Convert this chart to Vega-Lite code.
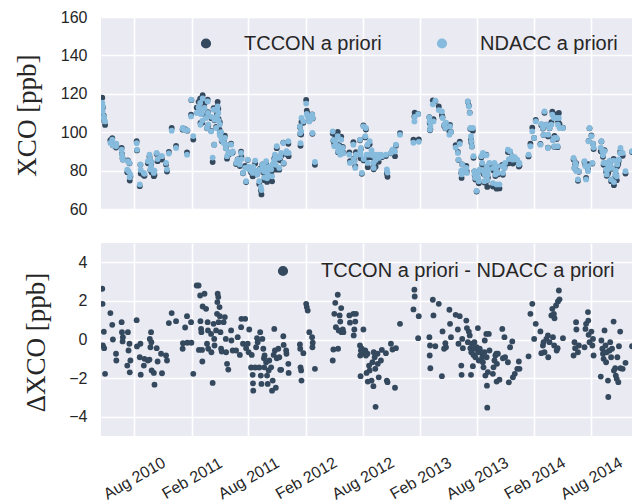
{
  "$schema": "https://vega.github.io/schema/vega-lite/v6.json",
  "padding": {"left": 12, "top": 9, "right": 0, "bottom": 0},
  "background": "white",
  "bounds": "flush",
  "spacing": 34,
  "config": {
    "view": {"fill": "#EAEAF2", "stroke": null},
    "axis": {"domain": false, "ticks": false, "tickSize": 0, "grid": true, "gridColor": "#FFFFFF", "gridWidth": 1.6, "gridOpacity": 1, "labelFont": "Liberation Sans", "labelFontSize": 16, "labelColor": "#262626", "labelOverlap": false, "titleFont": "Liberation Serif", "titleFontSize": 27, "titleFontWeight": "normal", "titleColor": "#262626"},
    "legend": {"orient": "none", "direction": "horizontal", "padding": 0, "symbolType": "circle", "symbolSize": 104, "symbolStrokeWidth": 0, "labelFont": "Liberation Sans", "labelFontSize": 20, "labelColor": "#262626", "labelOffset": 28, "labelLimit": 400, "columnPadding": 50, "title": null}
  },
  "datasets": {
    "obs": [
      {"d":"2010-04-21","n":115.4,"t":118.0,"df":2.63},
      {"d":"2010-04-22","n":110.8,"t":112.6,"df":1.85},
      {"d":"2010-04-26","n":108.2,"t":108.6,"df":0.40},
      {"d":"2010-04-23","n":113.4,"t":113.1,"df":-0.30},
      {"d":"2010-04-27","n":106.5,"t":106.0,"df":-0.45},
      {"d":"2010-04-30","n":105.6,"t":103.8,"df":-1.78},
      {"d":"2010-05-17","n":94.4,"t":95.8,"df":1.37},
      {"d":"2010-05-23","n":96.1,"t":96.9,"df":0.76},
      {"d":"2010-05-25","n":93.2,"t":93.2,"df":0.00},
      {"d":"2010-06-04","n":92.7,"t":92.0,"df":-0.74},
      {"d":"2010-06-05","n":94.0,"t":92.9,"df":-1.09},
      {"d":"2010-06-22","n":90.9,"t":91.8,"df":0.90},
      {"d":"2010-06-23","n":88.3,"t":88.7,"df":0.38},
      {"d":"2010-06-25","n":86.5,"t":86.4,"df":-0.10},
      {"d":"2010-06-26","n":85.7,"t":85.8,"df":0.12},
      {"d":"2010-07-12","n":84.9,"t":85.3,"df":0.38},
      {"d":"2010-07-14","n":79.7,"t":79.1,"df":-0.57},
      {"d":"2010-07-17","n":84.0,"t":83.8,"df":-0.22},
      {"d":"2010-07-20","n":78.0,"t":76.9,"df":-1.09},
      {"d":"2010-07-10","n":80.5,"t":79.2,"df":-1.35},
      {"d":"2010-07-18","n":76.5,"t":74.8,"df":-1.70},
      {"d":"2010-08-09","n":94.3,"t":95.3,"df":1.00},
      {"d":"2010-08-10","n":90.9,"t":90.5,"df":-0.36},
      {"d":"2010-08-21","n":83.2,"t":83.0,"df":-0.22},
      {"d":"2010-08-19","n":72.8,"t":71.9,"df":-0.92},
      {"d":"2010-08-22","n":80.3,"t":78.5,"df":-1.82},
      {"d":"2010-09-03","n":78.3,"t":77.3,"df":-1.00},
      {"d":"2010-09-01","n":78.8,"t":77.4,"df":-1.35},
      {"d":"2010-09-14","n":84.9,"t":83.8,"df":-1.09},
      {"d":"2010-09-19","n":88.3,"t":87.3,"df":-1.04},
      {"d":"2010-09-20","n":86.0,"t":86.0,"df":0.03},
      {"d":"2010-09-24","n":82.3,"t":82.7,"df":0.38},
      {"d":"2010-09-25","n":84.5,"t":84.4,"df":-0.14},
      {"d":"2010-09-22","n":80.6,"t":80.2,"df":-0.40},
      {"d":"2010-09-26","n":80.6,"t":79.0,"df":-1.60},
      {"d":"2010-10-03","n":78.8,"t":77.1,"df":-1.73},
      {"d":"2010-10-05","n":80.0,"t":77.7,"df":-2.34},
      {"d":"2010-10-12","n":89.2,"t":88.7,"df":-0.45},
      {"d":"2010-10-15","n":86.0,"t":84.9,"df":-1.14},
      {"d":"2010-10-26","n":87.5,"t":86.8,"df":-0.74},
      {"d":"2010-10-29","n":87.5,"t":85.8,"df":-1.75},
      {"d":"2010-11-11","n":84.0,"t":83.2,"df":-0.83},
      {"d":"2010-11-14","n":80.6,"t":79.5,"df":-1.09},
      {"d":"2010-11-20","n":88.9,"t":89.7,"df":0.85},
      {"d":"2010-11-29","n":100.8,"t":102.2,"df":1.37},
      {"d":"2010-12-13","n":91.8,"t":92.8,"df":0.95},
      {"d":"2011-01-03","n":101.8,"t":101.3,"df":-0.48},
      {"d":"2011-01-04","n":102.2,"t":102.0,"df":-0.19},
      {"d":"2011-01-11","n":101.0,"t":101.6,"df":0.62},
      {"d":"2011-01-17","n":88.3,"t":89.5,"df":1.21},
      {"d":"2011-01-18","n":101.0,"t":100.8,"df":-0.17},
      {"d":"2011-01-30","n":108.2,"t":109.1,"df":0.90},
      {"d":"2011-01-31","n":116.9,"t":116.7,"df":-0.17},
      {"d":"2011-02-06","n":98.0,"t":96.2,"df":-1.78},
      {"d":"2011-02-17","n":110.0,"t":112.8,"df":2.80},
      {"d":"2011-02-23","n":113.0,"t":115.8,"df":2.80},
      {"d":"2011-02-28","n":115.2,"t":117.5,"df":2.28},
      {"d":"2011-03-14","n":112.6,"t":115.0,"df":2.37},
      {"d":"2011-03-08","n":117.6,"t":119.3,"df":1.71},
      {"d":"2011-03-19","n":107.4,"t":109.0,"df":1.59},
      {"d":"2011-03-01","n":103.9,"t":104.9,"df":0.95},
      {"d":"2011-03-03","n":109.4,"t":110.0,"df":0.55},
      {"d":"2011-03-04","n":112.0,"t":112.4,"df":0.38},
      {"d":"2011-03-06","n":110.0,"t":109.5,"df":-0.54},
      {"d":"2011-02-24","n":111.0,"t":110.5,"df":-0.54},
      {"d":"2011-03-07","n":106.0,"t":104.9,"df":-1.14},
      {"d":"2011-03-24","n":116.0,"t":116.9,"df":0.90},
      {"d":"2011-03-25","n":110.0,"t":110.5,"df":0.47},
      {"d":"2011-03-22","n":102.2,"t":102.0,"df":-0.22},
      {"d":"2011-03-26","n":104.0,"t":103.5,"df":-0.48},
      {"d":"2011-04-04","n":100.4,"t":100.7,"df":0.29},
      {"d":"2011-04-05","n":108.0,"t":107.3,"df":-0.66},
      {"d":"2011-04-09","n":86.8,"t":84.5,"df":-2.25},
      {"d":"2011-04-12","n":111.7,"t":112.5,"df":0.81},
      {"d":"2011-04-14","n":93.5,"t":93.5,"df":0.03},
      {"d":"2011-04-15","n":106.5,"t":106.2,"df":-0.31},
      {"d":"2011-04-20","n":102.2,"t":102.7,"df":0.47},
      {"d":"2011-04-23","n":108.2,"t":109.5,"df":1.33},
      {"d":"2011-04-24","n":111.5,"t":113.4,"df":1.94},
      {"d":"2011-04-25","n":113.4,"t":115.8,"df":2.37},
      {"d":"2011-04-27","n":110.0,"t":112.2,"df":2.20},
      {"d":"2011-05-01","n":99.6,"t":101.3,"df":1.68},
      {"d":"2011-05-02","n":104.0,"t":105.2,"df":1.21},
      {"d":"2011-04-28","n":106.0,"t":106.9,"df":0.90},
      {"d":"2011-05-04","n":97.9,"t":98.3,"df":0.38},
      {"d":"2011-05-06","n":100.0,"t":99.5,"df":-0.48},
      {"d":"2011-05-08","n":96.0,"t":95.4,"df":-0.62},
      {"d":"2011-05-14","n":94.4,"t":95.3,"df":0.90},
      {"d":"2011-05-18","n":97.0,"t":98.2,"df":1.16},
      {"d":"2011-05-21","n":91.8,"t":91.8,"df":0.03},
      {"d":"2011-05-22","n":93.5,"t":92.8,"df":-0.66},
      {"d":"2011-05-25","n":87.5,"t":86.2,"df":-1.26},
      {"d":"2011-05-29","n":89.7,"t":88.1,"df":-1.56},
      {"d":"2011-06-07","n":93.5,"t":94.0,"df":0.47},
      {"d":"2011-06-08","n":89.0,"t":89.0,"df":-0.05},
      {"d":"2011-06-12","n":90.0,"t":89.4,"df":-0.57},
      {"d":"2011-06-23","n":84.0,"t":83.4,"df":-0.57},
      {"d":"2011-06-28","n":85.7,"t":85.8,"df":0.12},
      {"d":"2011-07-05","n":83.2,"t":82.4,"df":-0.80},
      {"d":"2011-07-09","n":89.2,"t":89.8,"df":0.64},
      {"d":"2011-07-10","n":86.0,"t":87.1,"df":1.07},
      {"d":"2011-07-22","n":81.4,"t":82.5,"df":1.07},
      {"d":"2011-07-15","n":78.8,"t":78.6,"df":-0.22},
      {"d":"2011-07-25","n":74.5,"t":74.0,"df":-0.45},
      {"d":"2011-07-30","n":85.7,"t":85.5,"df":-0.22},
      {"d":"2011-08-04","n":80.6,"t":81.1,"df":0.52},
      {"d":"2011-08-02","n":82.0,"t":81.3,"df":-0.66},
      {"d":"2011-08-12","n":79.7,"t":78.9,"df":-0.80},
      {"d":"2011-08-10","n":80.5,"t":79.0,"df":-1.45},
      {"d":"2011-08-15","n":78.8,"t":77.0,"df":-1.83},
      {"d":"2011-08-16","n":79.5,"t":77.2,"df":-2.27},
      {"d":"2011-08-17","n":82.0,"t":79.3,"df":-2.65},
      {"d":"2011-08-23","n":85.2,"t":83.7,"df":-1.45},
      {"d":"2011-08-26","n":80.0,"t":79.6,"df":-0.40},
      {"d":"2011-08-29","n":78.0,"t":78.1,"df":0.07},
      {"d":"2011-08-31","n":79.0,"t":78.9,"df":-0.14},
      {"d":"2011-09-05","n":74.5,"t":73.0,"df":-1.45},
      {"d":"2011-09-08","n":80.6,"t":81.0,"df":0.38},
      {"d":"2011-09-10","n":71.5,"t":69.6,"df":-1.87},
      {"d":"2011-09-12","n":69.9,"t":67.6,"df":-2.30},
      {"d":"2011-09-15","n":83.2,"t":83.2,"df":0.03},
      {"d":"2011-09-18","n":80.6,"t":80.1,"df":-0.48},
      {"d":"2011-09-20","n":79.7,"t":78.7,"df":-0.97},
      {"d":"2011-09-21","n":76.5,"t":75.0,"df":-1.44},
      {"d":"2011-09-22","n":82.0,"t":81.2,"df":-0.83},
      {"d":"2011-09-27","n":84.9,"t":83.7,"df":-1.18},
      {"d":"2011-09-30","n":76.0,"t":74.1,"df":-1.87},
      {"d":"2011-10-02","n":78.0,"t":75.7,"df":-2.30},
      {"d":"2011-10-05","n":80.6,"t":79.0,"df":-1.60},
      {"d":"2011-10-07","n":82.0,"t":80.9,"df":-1.09},
      {"d":"2011-10-13","n":80.6,"t":79.2,"df":-1.44},
      {"d":"2011-10-16","n":77.0,"t":74.4,"df":-2.65},
      {"d":"2011-10-18","n":83.2,"t":81.1,"df":-2.13},
      {"d":"2011-10-21","n":84.0,"t":83.2,"df":-0.80},
      {"d":"2011-10-23","n":85.7,"t":86.3,"df":0.55},
      {"d":"2011-10-25","n":88.3,"t":87.7,"df":-0.57},
      {"d":"2011-10-28","n":83.0,"t":80.5,"df":-2.50},
      {"d":"2011-10-31","n":92.7,"t":91.7,"df":-0.97},
      {"d":"2011-11-05","n":86.6,"t":86.1,"df":-0.48},
      {"d":"2011-11-08","n":81.4,"t":80.5,"df":-0.92},
      {"d":"2011-11-11","n":87.0,"t":85.4,"df":-1.57},
      {"d":"2011-11-21","n":94.4,"t":94.6,"df":0.17},
      {"d":"2011-11-22","n":84.0,"t":83.7,"df":-0.28},
      {"d":"2011-11-30","n":89.2,"t":88.6,"df":-0.57},
      {"d":"2011-12-01","n":90.1,"t":89.4,"df":-0.74},
      {"d":"2011-11-14","n":89.2,"t":87.6,"df":-1.57},
      {"d":"2011-12-07","n":95.3,"t":94.0,"df":-1.26},
      {"d":"2011-12-08","n":89.2,"t":87.5,"df":-1.73},
      {"d":"2012-01-13","n":103.0,"t":102.7,"df":-0.26},
      {"d":"2012-01-14","n":99.6,"t":99.1,"df":-0.48},
      {"d":"2012-01-15","n":94.3,"t":92.9,"df":-1.44},
      {"d":"2012-01-17","n":100.4,"t":98.8,"df":-1.60},
      {"d":"2012-01-18","n":107.4,"t":105.3,"df":-2.13},
      {"d":"2012-01-24","n":105.6,"t":104.9,"df":-0.71},
      {"d":"2012-02-02","n":114.9,"t":116.8,"df":1.85},
      {"d":"2012-02-04","n":109.5,"t":111.2,"df":1.68},
      {"d":"2012-02-07","n":108.2,"t":109.7,"df":1.50},
      {"d":"2012-02-12","n":105.6,"t":106.0,"df":0.38},
      {"d":"2012-02-21","n":109.1,"t":109.2,"df":0.12},
      {"d":"2012-02-23","n":107.4,"t":107.2,"df":-0.17},
      {"d":"2012-02-22","n":99.6,"t":99.2,"df":-0.40},
      {"d":"2012-03-01","n":84.5,"t":83.0,"df":-1.52},
      {"d":"2012-04-27","n":100.4,"t":99.3,"df":-1.09},
      {"d":"2012-04-29","n":96.0,"t":95.5,"df":-0.52},
      {"d":"2012-05-05","n":95.3,"t":97.2,"df":1.90},
      {"d":"2012-05-13","n":97.9,"t":100.2,"df":2.32},
      {"d":"2012-05-02","n":92.7,"t":94.0,"df":1.33},
      {"d":"2012-05-07","n":93.5,"t":94.1,"df":0.64},
      {"d":"2012-05-14","n":90.1,"t":89.6,"df":-0.48},
      {"d":"2012-05-16","n":92.7,"t":93.2,"df":0.47},
      {"d":"2012-05-19","n":91.8,"t":93.0,"df":1.25},
      {"d":"2012-05-21","n":88.3,"t":89.2,"df":0.93},
      {"d":"2012-05-24","n":96.1,"t":97.7,"df":1.63},
      {"d":"2012-05-25","n":90.5,"t":90.9,"df":0.38},
      {"d":"2012-05-29","n":91.8,"t":92.3,"df":0.52},
      {"d":"2012-05-31","n":89.0,"t":89.4,"df":0.38},
      {"d":"2012-06-19","n":88.3,"t":89.5,"df":1.25},
      {"d":"2012-06-21","n":84.0,"t":84.9,"df":0.87},
      {"d":"2012-07-02","n":93.5,"t":94.8,"df":1.33},
      {"d":"2012-07-08","n":81.4,"t":82.3,"df":0.93},
      {"d":"2012-07-10","n":88.3,"t":89.6,"df":1.33},
      {"d":"2012-07-05","n":84.5,"t":85.0,"df":0.52},
      {"d":"2012-07-03","n":86.0,"t":86.2,"df":0.21},
      {"d":"2012-08-03","n":103.0,"t":103.5,"df":0.52},
      {"d":"2012-07-23","n":96.1,"t":95.8,"df":-0.31},
      {"d":"2012-07-26","n":91.8,"t":91.2,"df":-0.57},
      {"d":"2012-07-24","n":90.1,"t":89.3,"df":-0.83},
      {"d":"2012-07-29","n":78.8,"t":78.3,"df":-0.48},
      {"d":"2012-08-04","n":86.0,"t":85.3,"df":-0.66},
      {"d":"2012-08-09","n":97.9,"t":97.3,"df":-0.57},
      {"d":"2012-08-11","n":102.2,"t":101.4,"df":-0.83},
      {"d":"2012-08-16","n":93.5,"t":92.8,"df":-0.74},
      {"d":"2012-07-25","n":88.3,"t":86.4,"df":-1.90},
      {"d":"2012-08-13","n":88.3,"t":86.6,"df":-1.73},
      {"d":"2012-08-17","n":84.0,"t":81.8,"df":-2.18},
      {"d":"2012-08-21","n":88.3,"t":87.0,"df":-1.35},
      {"d":"2012-08-23","n":95.3,"t":93.7,"df":-1.60},
      {"d":"2012-08-29","n":90.6,"t":88.5,"df":-2.13},
      {"d":"2012-09-01","n":88.0,"t":86.8,"df":-1.18},
      {"d":"2012-09-04","n":84.0,"t":81.6,"df":-2.42},
      {"d":"2012-09-05","n":81.4,"t":80.7,"df":-0.66},
      {"d":"2012-09-08","n":88.3,"t":87.4,"df":-0.92},
      {"d":"2012-09-10","n":86.6,"t":85.1,"df":-1.52},
      {"d":"2012-09-11","n":85.5,"t":82.0,"df":-3.49},
      {"d":"2012-09-17","n":88.3,"t":87.6,"df":-0.74},
      {"d":"2012-09-18","n":87.0,"t":85.7,"df":-1.26},
      {"d":"2012-09-21","n":86.6,"t":84.6,"df":-1.96},
      {"d":"2012-09-28","n":88.3,"t":87.2,"df":-1.09},
      {"d":"2012-10-01","n":87.5,"t":87.0,"df":-0.54},
      {"d":"2012-10-14","n":88.3,"t":87.6,"df":-0.71},
      {"d":"2012-10-17","n":80.6,"t":78.5,"df":-2.13},
      {"d":"2012-10-19","n":79.0,"t":76.8,"df":-2.21},
      {"d":"2012-10-30","n":89.2,"t":89.0,"df":-0.22},
      {"d":"2012-11-04","n":90.9,"t":90.4,"df":-0.52},
      {"d":"2012-11-12","n":90.0,"t":87.5,"df":-2.50},
      {"d":"2012-11-15","n":93.5,"t":93.0,"df":-0.45},
      {"d":"2012-11-28","n":98.7,"t":99.5,"df":0.81},
      {"d":"2013-01-13","n":105.6,"t":108.2,"df":2.58},
      {"d":"2013-01-14","n":108.0,"t":110.2,"df":2.23},
      {"d":"2013-01-10","n":94.5,"t":96.1,"df":1.56},
      {"d":"2013-01-27","n":95.0,"t":96.2,"df":1.21},
      {"d":"2013-01-25","n":109.4,"t":109.5,"df":0.07},
      {"d":"2013-03-02","n":107.7,"t":107.8,"df":0.12},
      {"d":"2013-03-04","n":101.3,"t":101.0,"df":-0.31},
      {"d":"2013-03-03","n":105.6,"t":104.8,"df":-0.83},
      {"d":"2013-03-05","n":103.0,"t":101.5,"df":-1.49},
      {"d":"2013-03-13","n":114.5,"t":116.6,"df":2.06},
      {"d":"2013-03-15","n":105.6,"t":106.8,"df":1.25},
      {"d":"2013-03-21","n":116.4,"t":116.1,"df":-0.35},
      {"d":"2013-04-01","n":111.5,"t":113.4,"df":1.85},
      {"d":"2013-04-11","n":110.8,"t":108.9,"df":-1.90},
      {"d":"2013-04-13","n":107.4,"t":107.8,"df":0.42},
      {"d":"2013-04-18","n":103.9,"t":103.4,"df":-0.48},
      {"d":"2013-04-22","n":102.2,"t":102.0,"df":-0.19},
      {"d":"2013-04-24","n":105.0,"t":104.6,"df":-0.40},
      {"d":"2013-05-05","n":98.7,"t":100.2,"df":1.54},
      {"d":"2013-05-07","n":103.0,"t":103.8,"df":0.81},
      {"d":"2013-05-10","n":100.0,"t":100.1,"df":0.12},
      {"d":"2013-05-25","n":92.0,"t":93.3,"df":1.28},
      {"d":"2013-06-07","n":93.9,"t":95.1,"df":1.21},
      {"d":"2013-06-01","n":89.2,"t":89.7,"df":0.52},
      {"d":"2013-06-03","n":85.7,"t":85.5,"df":-0.22},
      {"d":"2013-06-12","n":80.0,"t":78.7,"df":-1.35},
      {"d":"2013-06-13","n":78.0,"t":76.2,"df":-1.83},
      {"d":"2013-06-15","n":83.2,"t":83.2,"df":0.03},
      {"d":"2013-06-17","n":79.7,"t":79.2,"df":-0.45},
      {"d":"2013-06-28","n":81.4,"t":82.4,"df":0.98},
      {"d":"2013-06-30","n":78.8,"t":79.4,"df":0.59},
      {"d":"2013-07-03","n":116.0,"t":115.9,"df":-0.14},
      {"d":"2013-07-06","n":113.4,"t":113.8,"df":0.41},
      {"d":"2013-07-09","n":110.0,"t":110.2,"df":0.21},
      {"d":"2013-07-11","n":102.2,"t":101.7,"df":-0.45},
      {"d":"2013-07-13","n":97.9,"t":96.0,"df":-1.83},
      {"d":"2013-07-14","n":95.3,"t":94.6,"df":-0.66},
      {"d":"2013-07-16","n":92.7,"t":92.5,"df":-0.22},
      {"d":"2013-07-19","n":102.2,"t":100.8,"df":-1.38},
      {"d":"2013-07-21","n":87.5,"t":86.7,"df":-0.80},
      {"d":"2013-07-24","n":79.7,"t":79.6,"df":-0.14},
      {"d":"2013-07-25","n":78.0,"t":77.5,"df":-0.48},
      {"d":"2013-07-27","n":76.2,"t":75.3,"df":-0.92},
      {"d":"2013-07-31","n":69.5,"t":69.1,"df":-0.40},
      {"d":"2013-08-04","n":78.8,"t":79.4,"df":0.59},
      {"d":"2013-08-05","n":76.2,"t":75.5,"df":-0.66},
      {"d":"2013-08-07","n":74.5,"t":73.4,"df":-1.09},
      {"d":"2013-08-10","n":80.6,"t":80.1,"df":-0.48},
      {"d":"2013-08-15","n":87.5,"t":86.8,"df":-0.66},
      {"d":"2013-08-18","n":84.0,"t":83.1,"df":-0.92},
      {"d":"2013-08-20","n":89.2,"t":88.0,"df":-1.18},
      {"d":"2013-08-22","n":79.7,"t":78.3,"df":-1.44},
      {"d":"2013-08-25","n":74.5,"t":73.8,"df":-0.66},
      {"d":"2013-08-26","n":78.0,"t":78.0,"df":-0.05},
      {"d":"2013-08-28","n":79.7,"t":77.8,"df":-1.87},
      {"d":"2013-08-31","n":88.0,"t":88.3,"df":0.29},
      {"d":"2013-09-01","n":82.0,"t":81.1,"df":-0.92},
      {"d":"2013-09-02","n":77.0,"t":74.6,"df":-2.39},
      {"d":"2013-09-05","n":78.0,"t":76.3,"df":-1.69},
      {"d":"2013-09-08","n":80.6,"t":80.9,"df":0.29},
      {"d":"2013-09-10","n":84.0,"t":83.4,"df":-0.57},
      {"d":"2013-09-03","n":75.0,"t":71.5,"df":-3.53},
      {"d":"2013-09-21","n":73.5,"t":71.7,"df":-1.78},
      {"d":"2013-09-23","n":81.4,"t":80.0,"df":-1.44},
      {"d":"2013-09-26","n":84.0,"t":82.9,"df":-1.09},
      {"d":"2013-09-29","n":78.0,"t":77.2,"df":-0.83},
      {"d":"2013-10-02","n":79.7,"t":79.0,"df":-0.74},
      {"d":"2013-10-03","n":72.8,"t":70.6,"df":-2.18},
      {"d":"2013-10-04","n":82.3,"t":81.0,"df":-1.26},
      {"d":"2013-10-07","n":78.8,"t":78.0,"df":-0.74},
      {"d":"2013-10-12","n":72.8,"t":70.7,"df":-2.08},
      {"d":"2013-10-21","n":82.3,"t":82.9,"df":0.55},
      {"d":"2013-10-23","n":78.8,"t":77.8,"df":-0.97},
      {"d":"2013-10-28","n":81.4,"t":81.5,"df":0.12},
      {"d":"2013-10-30","n":84.0,"t":83.1,"df":-0.92},
      {"d":"2013-11-08","n":90.9,"t":89.7,"df":-1.18},
      {"d":"2013-11-11","n":86.0,"t":83.8,"df":-2.22},
      {"d":"2013-11-15","n":90.1,"t":89.7,"df":-0.40},
      {"d":"2013-11-22","n":87.5,"t":87.4,"df":-0.10},
      {"d":"2013-11-24","n":85.7,"t":83.7,"df":-1.96},
      {"d":"2013-11-30","n":87.0,"t":85.2,"df":-1.78},
      {"d":"2013-12-08","n":85.7,"t":84.2,"df":-1.52},
      {"d":"2013-12-13","n":83.2,"t":82.1,"df":-1.14},
      {"d":"2013-12-15","n":84.0,"t":82.5,"df":-1.52},
      {"d":"2014-01-13","n":88.3,"t":87.4,"df":-0.87},
      {"d":"2014-01-19","n":92.7,"t":94.0,"df":1.33},
      {"d":"2014-01-25","n":100.4,"t":102.3,"df":1.85},
      {"d":"2014-01-31","n":97.0,"t":97.0,"df":0.03},
      {"d":"2014-02-05","n":105.6,"t":106.4,"df":0.81},
      {"d":"2014-02-20","n":93.5,"t":93.9,"df":0.42},
      {"d":"2014-02-23","n":104.3,"t":103.6,"df":-0.71},
      {"d":"2014-02-28","n":102.2,"t":101.9,"df":-0.31},
      {"d":"2014-03-02","n":98.7,"t":98.6,"df":-0.14},
      {"d":"2014-03-05","n":110.8,"t":110.1,"df":-0.66},
      {"d":"2014-03-11","n":103.9,"t":103.9,"df":0.03},
      {"d":"2014-03-16","n":91.8,"t":92.0,"df":0.21},
      {"d":"2014-03-21","n":102.2,"t":102.0,"df":-0.14},
      {"d":"2014-03-17","n":98.7,"t":97.8,"df":-0.92},
      {"d":"2014-03-27","n":103.9,"t":105.2,"df":1.25},
      {"d":"2014-03-30","n":109.1,"t":110.7,"df":1.59},
      {"d":"2014-04-04","n":107.4,"t":108.7,"df":1.33},
      {"d":"2014-04-06","n":97.0,"t":98.1,"df":1.10},
      {"d":"2014-04-11","n":107.4,"t":109.2,"df":1.76},
      {"d":"2014-04-20","n":107.4,"t":110.0,"df":2.54},
      {"d":"2014-04-17","n":103.9,"t":105.9,"df":1.97},
      {"d":"2014-04-22","n":102.2,"t":104.3,"df":2.08},
      {"d":"2014-04-01","n":96.0,"t":96.1,"df":0.12},
      {"d":"2014-04-05","n":92.7,"t":92.4,"df":-0.31},
      {"d":"2014-04-13","n":97.0,"t":96.4,"df":-0.57},
      {"d":"2014-04-16","n":92.7,"t":92.2,"df":-0.45},
      {"d":"2014-05-03","n":102.2,"t":102.3,"df":0.07},
      {"d":"2014-06-06","n":86.6,"t":85.8,"df":-0.83},
      {"d":"2014-06-09","n":81.4,"t":81.3,"df":-0.14},
      {"d":"2014-06-11","n":84.0,"t":83.5,"df":-0.45},
      {"d":"2014-06-14","n":83.0,"t":83.9,"df":0.90},
      {"d":"2014-06-15","n":79.7,"t":80.2,"df":0.52},
      {"d":"2014-06-20","n":75.4,"t":74.7,"df":-0.66},
      {"d":"2014-06-23","n":79.7,"t":79.4,"df":-0.31},
      {"d":"2014-07-11","n":84.9,"t":84.5,"df":-0.40},
      {"d":"2014-07-14","n":82.3,"t":82.8,"df":0.55},
      {"d":"2014-07-16","n":75.4,"t":76.2,"df":0.81},
      {"d":"2014-07-22","n":79.7,"t":81.1,"df":1.42},
      {"d":"2014-07-23","n":82.3,"t":83.3,"df":0.98},
      {"d":"2014-07-24","n":95.3,"t":95.5,"df":0.24},
      {"d":"2014-07-27","n":102.2,"t":102.0,"df":-0.14},
      {"d":"2014-08-02","n":97.9,"t":98.3,"df":0.41},
      {"d":"2014-08-05","n":84.0,"t":83.7,"df":-0.31},
      {"d":"2014-08-07","n":94.0,"t":94.0,"df":0.03},
      {"d":"2014-08-09","n":92.0,"t":91.2,"df":-0.83},
      {"d":"2014-09-01","n":92.0,"t":90.1,"df":-1.92},
      {"d":"2014-09-03","n":95.3,"t":95.2,"df":-0.05},
      {"d":"2014-09-06","n":90.1,"t":89.6,"df":-0.48},
      {"d":"2014-09-08","n":88.0,"t":87.2,"df":-0.74},
      {"d":"2014-09-10","n":84.0,"t":83.0,"df":-1.00},
      {"d":"2014-09-13","n":90.1,"t":90.6,"df":0.47},
      {"d":"2014-09-16","n":84.0,"t":83.7,"df":-0.31},
      {"d":"2014-09-18","n":80.6,"t":79.4,"df":-1.18},
      {"d":"2014-09-20","n":78.0,"t":77.3,"df":-0.66},
      {"d":"2014-09-24","n":80.6,"t":78.5,"df":-2.13},
      {"d":"2014-09-25","n":82.0,"t":79.0,"df":-2.98},
      {"d":"2014-09-29","n":85.2,"t":84.6,"df":-0.57},
      {"d":"2014-10-01","n":83.0,"t":82.9,"df":-0.14},
      {"d":"2014-10-04","n":75.4,"t":74.5,"df":-0.92},
      {"d":"2014-10-07","n":81.4,"t":80.9,"df":-0.48},
      {"d":"2014-10-12","n":85.2,"t":86.1,"df":0.93},
      {"d":"2014-10-13","n":74.0,"t":72.4,"df":-1.61},
      {"d":"2014-10-17","n":78.0,"t":76.5,"df":-1.49},
      {"d":"2014-10-19","n":80.0,"t":78.1,"df":-1.87},
      {"d":"2014-10-22","n":77.0,"t":75.0,"df":-2.04},
      {"d":"2014-10-24","n":83.2,"t":82.3,"df":-0.92},
      {"d":"2014-10-27","n":85.7,"t":83.5,"df":-2.21},
      {"d":"2014-10-29","n":85.7,"t":85.3,"df":-0.35},
      {"d":"2014-11-02","n":89.0,"t":89.4,"df":0.41},
      {"d":"2014-11-03","n":91.8,"t":90.3,"df":-1.49},
      {"d":"2014-11-10","n":89.2,"t":87.7,"df":-1.52},
      {"d":"2014-11-19","n":79.7,"t":78.5,"df":-1.21},
      {"d":"2014-12-10","n":90.1,"t":89.7,"df":-0.35}
    ]
  },
  "vconcat": [
    {
      "width": 532,
      "height": 192,
      "data": {"name": "obs"},
      "transform": [{"fold": ["t", "n"], "as": ["s", "v"]}],
      "mark": {"type": "point", "filled": true, "size": 34, "opacity": 1, "clip": true},
      "encoding": {
        "x": {"field": "d", "type": "temporal",
          "scale": {"type": "utc", "domain": [{"year": 2010, "month": 4, "date": 17, "utc": true}, {"year": 2014, "month": 12, "date": 13, "utc": true}]},
          "axis": {"title": null, "labels": false,
            "values": [{"year": 2010, "month": 8, "date": 1, "utc": true}, {"year": 2011, "month": 2, "date": 1, "utc": true}, {"year": 2011, "month": 8, "date": 1, "utc": true}, {"year": 2012, "month": 2, "date": 1, "utc": true}, {"year": 2012, "month": 8, "date": 1, "utc": true}, {"year": 2013, "month": 2, "date": 1, "utc": true}, {"year": 2013, "month": 8, "date": 1, "utc": true}, {"year": 2014, "month": 2, "date": 1, "utc": true}, {"year": 2014, "month": 8, "date": 1, "utc": true}]}},
        "y": {"field": "v", "type": "quantitative", "title": "XCO [ppb]",
          "scale": {"domain": [60, 160]},
          "axis": {"values": [60, 80, 100, 120, 140, 160], "labelPadding": 14, "titleX": -74, "titleY": 98, "titleBaseline": "middle", "titleAlign": "center"}},
        "color": {"field": "s", "type": "nominal",
          "scale": {"domain": ["t", "n"], "range": ["#34495e", "#86bbdd"]},
          "legend": {"legendX": 95, "legendY": 16.5, "labelExpr": "datum.value == 't' ? 'TCCON a priori' : 'NDACC a priori'"}},
        "order": {"field": "s", "sort": "descending"}
      }
    },
    {
      "width": 532,
      "height": 193,
      "data": {"name": "obs"},
      "mark": {"type": "point", "filled": true, "size": 34, "opacity": 1, "clip": true},
      "encoding": {
        "x": {"field": "d", "type": "temporal",
          "scale": {"type": "utc", "domain": [{"year": 2010, "month": 4, "date": 17, "utc": true}, {"year": 2014, "month": 12, "date": 13, "utc": true}]},
          "axis": {"title": null, "format": "%b %Y", "labelAngle": -30, "labelAlign": "center", "labelBaseline": "middle", "labelPadding": 42,
            "values": [{"year": 2010, "month": 8, "date": 1, "utc": true}, {"year": 2011, "month": 2, "date": 1, "utc": true}, {"year": 2011, "month": 8, "date": 1, "utc": true}, {"year": 2012, "month": 2, "date": 1, "utc": true}, {"year": 2012, "month": 8, "date": 1, "utc": true}, {"year": 2013, "month": 2, "date": 1, "utc": true}, {"year": 2013, "month": 8, "date": 1, "utc": true}, {"year": 2014, "month": 2, "date": 1, "utc": true}, {"year": 2014, "month": 8, "date": 1, "utc": true}]}},
        "y": {"field": "df", "type": "quantitative", "title": "ΔXCO [ppb]",
          "scale": {"domain": [-5, 5]},
          "axis": {"values": [-4, -2, 0, 2, 4], "labelPadding": 14, "titleX": -65, "titleY": 99, "titleBaseline": "middle", "titleAlign": "center"}},
        "color": {"datum": "TCCON a priori - NDACC a priori",
          "scale": {"range": ["#34495e"]},
          "legend": {"legendX": 172, "legendY": 18}}
      }
    }
  ],
  "resolve": {"scale": {"color": "independent"}, "legend": {"color": "independent"}}
}
